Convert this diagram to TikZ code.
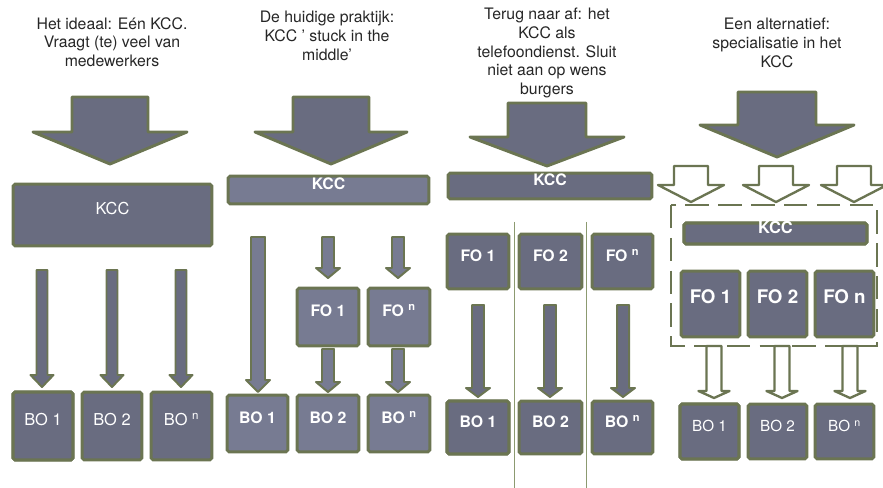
\documentclass[tikz,border=0pt]{standalone}
\usepackage{fontspec}
\setmainfont{TeX Gyre Heros}
\usetikzlibrary{fit}
\definecolor{olivec}{HTML}{6B7552}
\definecolor{boxa}{HTML}{696C80}
\definecolor{boxb}{HTML}{777B92}
\definecolor{sepline}{HTML}{8C9A70}
% style, centre x, top y, head y, tip y, half shaft, half head
\newcommand{\blockarrow}[7][]{%
  \draw[#1] (#2-#6,#3) -- (#2+#6,#3) -- (#2+#6,#4) -- (#2+#7,#4) -- (#2,#5) -- (#2-#7,#4) -- (#2-#6,#4) -- cycle;}

\begin{document}
\begin{tikzpicture}[x=0.03cm, y=-0.03cm,
    title/.style={align=center, text=black!85, font=\fontsize{13.5}{16}\selectfont},
    box/.style={draw=olivec, fill=boxa, line width=2.5pt, rounded corners=1.5pt, text=white, inner sep=-1pt},
    lightbox/.style={box, fill=boxb},
    bigarrow/.style={draw=olivec, fill=boxa, line width=2.5pt, line join=round},
    smallarrow/.style={draw=olivec, fill=boxa, line width=1.7pt, line join=round},
    lightarrow/.style={smallarrow, fill=boxb},
    hollowarrow/.style={draw=olivec, fill=white, line width=2pt, line join=round},
    regular/.style={font=\fontsize{14}{16}\selectfont},
    strong/.style={font=\fontsize{13.5}{16}\selectfont\bfseries}]
  \useasboundingbox (0,0) rectangle (883,488);

  % titles
  \node[title] (titleA) at (112,42) {Het ideaal: Eén KCC.\\Vraagt (te) veel van\\medewerkers};
  \node[title] (titleB) at (327,36) {De huidige praktijk:\\KCC ' stuck in the\\middle'};
  \node[title] (titleC) at (547,53) {Terug naar af: het\\KCC als\\telefoondienst. Sluit\\niet aan op wens\\burgers};
  \node[title] (titleD) at (777,43) {Een alternatief:\\specialisatie in het\\KCC};

  % big arrows
  \blockarrow[bigarrow]{110}{97}{132}{164}{38}{77}
  \blockarrow[bigarrow]{331}{97}{132}{164}{38}{76}
  \blockarrow[bigarrow]{547}{103}{137}{166}{39}{77}
  \blockarrow[bigarrow]{777}{92}{125}{157}{39}{77}

  % panel 1: one KCC
  \node[box, regular, fit={(12,183) (213,247)}] (kccA) {KCC};
  \foreach \cx in {42,112,181}
    \blockarrow[smallarrow]{\cx}{270}{375}{387}{5.5}{11.5}
  \node[box, regular, fit={(12,391) (74,461)}] (boA1) {BO 1};
  \node[box, regular, fit={(81,391) (143,461)}] (boA2) {BO 2};
  \node[box, regular, fit={(150,391) (213,461)}] (boA3) {BO \textsuperscript{n}};

  % panel 2: stuck in the middle
  \node[lightbox, strong, fit={(227,175) (430,205)}] (kccB) {KCC};
  \blockarrow[lightarrow]{258}{237}{380}{392}{7}{12}
  \foreach \cx in {328,398} {
    \blockarrow[lightarrow]{\cx}{237}{268}{278}{6}{12}
    \blockarrow[lightarrow]{\cx}{349}{382}{392}{6}{12}
  }
  \node[lightbox, strong, fit={(296,287) (360,347)}] (foB1) {FO 1};
  \node[lightbox, strong, fit={(367,287) (431,347)}] (foB2) {FO \textsuperscript{n}};
  \node[lightbox, strong, fit={(226,394) (289,453)}] (boB1) {BO 1};
  \node[lightbox, strong, fit={(296,394) (360,453)}] (boB2) {BO 2};
  \node[lightbox, strong, fit={(367,394) (431,453)}] (boB3) {BO \textsuperscript{n}};

  % panel 3: back to square one
  \draw[sepline, line width=0.8pt] (514,222) -- (514,488);
  \draw[sepline, line width=0.8pt] (586,222) -- (586,488);
  \node[box, strong, fit={(447,172) (653,200)}] (kccC) {KCC};
  \node[box, strong, fit={(446,233) (510,290)}] (foC1) {FO 1};
  \node[box, strong, fit={(518,233) (583,290)}] (foC2) {FO 2};
  \node[box, strong, fit={(591,233) (654,290)}] (foC3) {FO \textsuperscript{n}};
  \foreach \cx in {478,550,623}
    \blockarrow[smallarrow]{\cx}{305}{388}{397}{6}{12}
  \node[box, strong, fit={(446,400) (510,455)}] (boC1) {BO 1};
  \node[box, strong, fit={(518,400) (583,455)}] (boC2) {BO 2};
  \node[box, strong, fit={(591,400) (654,455)}] (boC3) {BO \textsuperscript{n}};

  % panel 4: specialisation
  \draw[olivec, line width=2.5pt, dash pattern=on 20pt off 8pt] (671,205) rectangle (877,346);
  \foreach \cx in {691,776,854}
    \blockarrow[hollowarrow]{\cx}{166}{185}{202}{17}{33}
  \node[box, font=\fontsize{14}{16}\selectfont\bfseries, fit={(683,222) (868,245)}] (kccD) {KCC};
  \node[box, font=\fontsize{16}{18}\selectfont\bfseries, fit={(680,270) (741,338)}] (foD1) {FO 1};
  \node[box, font=\fontsize{16}{18}\selectfont\bfseries, fit={(747,270) (808,338)}] (foD2) {FO 2};
  \node[box, font=\fontsize{16}{18}\selectfont\bfseries, fit={(814,270) (875,338)}] (foD3) {FO n};
  \foreach \cx in {714,782,850}
    \blockarrow[hollowarrow]{\cx}{346}{391}{398}{7.5}{15.5}
  \node[box, font=\fontsize{13}{16}\selectfont, fit={(679,403) (740,460)}] (boD1) {BO 1};
  \node[box, font=\fontsize{13}{16}\selectfont, fit={(747,403) (808,460)}] (boD2) {BO 2};
  \node[box, font=\fontsize{13}{16}\selectfont, fit={(814,403) (875,460)}] (boD3) {BO \textsuperscript{n}};
\end{tikzpicture}
\end{document}
